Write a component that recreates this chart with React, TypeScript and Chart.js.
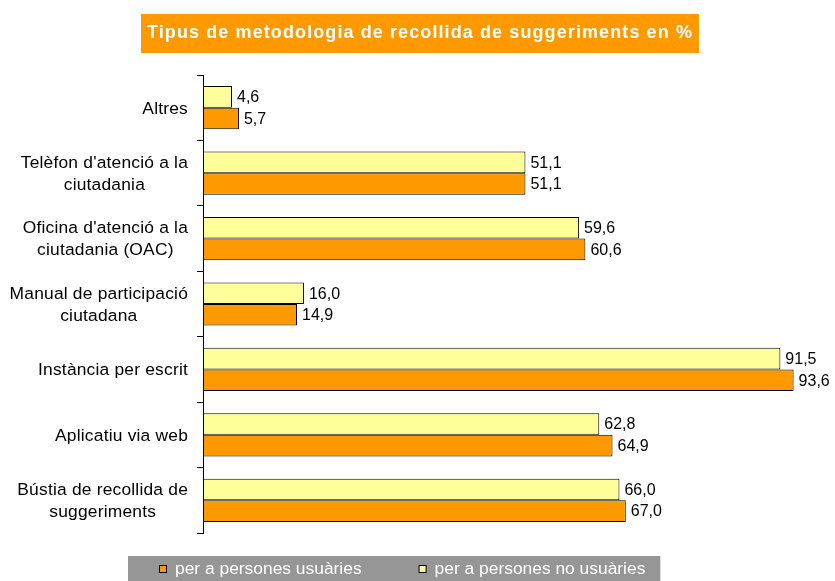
import React, { useEffect, useRef } from 'react';
import { Chart, registerables } from 'chart.js';

Chart.register(...registerables);

const chartTitle = 'Tipus de metodologia de recollida de suggeriments en %';
const categories: string[][] = [
  ['Altres'],
  ["Telèfon d'atenció a la", 'ciutadania'],
  ["Oficina d'atenció a la", 'ciutadania (OAC)'],
  ['Manual de participació', 'ciutadana'],
  ['Instància per escrit'],
  ['Aplicatiu via web'],
  ['Bústia de recollida de', 'suggeriments'],
];
const usuaries = [5.7, 51.1, 60.6, 14.9, 93.6, 64.9, 67.0];
const noUsuaries = [4.6, 51.1, 59.6, 16.0, 91.5, 62.8, 66.0];
const seriesNames = ['per a persones usuàries', 'per a persones no usuàries'];

const ORANGE = '#FF9900';
const YELLOW = '#FFFF99';
const GRAY = '#969696';
const FONT = '"Liberation Sans", Arial, sans-serif';

const setSpacing = (ctx: any, px: number) => {
  if ('letterSpacing' in ctx) ctx.letterSpacing = `${px}px`;
};

const customPlugin = {
  id: 'customDecor',
  beforeDraw(chart: any) {
    const ctx = chart.ctx as any;
    ctx.save();
    // Title box
    ctx.font = `bold 18px ${FONT}`;
    setSpacing(ctx, 0);
    const raw = ctx.measureText(chartTitle).width;
    const sp = Math.max(0, (546 - raw) / chartTitle.length);
    setSpacing(ctx, sp);
    const cx = 420;
    ctx.fillStyle = ORANGE;
    ctx.fillRect(141, 14, 558, 39);
    ctx.fillStyle = '#FFFFFF';
    ctx.textAlign = 'left';
    ctx.textBaseline = 'middle';
    ctx.fillText(chartTitle, cx - 546 / 2, 33);

    // Legend
    ctx.font = `17.4px ${FONT}`;
    setSpacing(ctx, 0);
    const w1 = ctx.measureText(seriesNames[0]).width;
    const w2 = ctx.measureText(seriesNames[1]).width;
    const x1 = 159;
    const x2 = x1 + 16 + w1 + 57;
    const end = x2 + 16 + w2;
    ctx.fillStyle = GRAY;
    ctx.fillRect(128, 556, end + 15 - 128, 40);
    const items = [
      { x: x1, color: ORANGE, text: seriesNames[0] },
      { x: x2, color: YELLOW, text: seriesNames[1] },
    ];
    items.forEach((it) => {
      ctx.fillStyle = it.color;
      ctx.fillRect(it.x + 0.5, 565.5, 7, 7);
      ctx.strokeStyle = '#000';
      ctx.lineWidth = 1;
      ctx.strokeRect(it.x + 0.5, 565.5, 7, 7);
      ctx.fillStyle = '#FFFFFF';
      ctx.textAlign = 'left';
      ctx.textBaseline = 'middle';
      ctx.fillText(it.text, it.x + 16, 569);
    });
    ctx.restore();
  },
  afterDatasetsDraw(chart: any) {
    const ctx = chart.ctx as any;
    ctx.save();
    // Value labels
    ctx.font = `16px ${FONT}`;
    setSpacing(ctx, 0);
    ctx.fillStyle = '#000';
    ctx.textAlign = 'left';
    ctx.textBaseline = 'middle';
    chart.data.datasets.forEach((ds: any, di: number) => {
      const meta = chart.getDatasetMeta(di);
      meta.data.forEach((el: any, i: number) => {
        const v = ds.data[i] as number;
        ctx.fillText(v.toFixed(1).replace('.', ','), el.x + 5, el.y + 1);
      });
    });
    // Category labels
    const yScale = chart.scales.y;
    ctx.font = `17.4px ${FONT}`;
    setSpacing(ctx, 0.2);
    ctx.textAlign = 'center';
    categories.forEach((lines, i) => {
      const y = yScale.getPixelForTick(i);
      const bw = Math.max(...lines.map((l) => ctx.measureText(l).width));
      const cx = 188 - bw / 2;
      lines.forEach((l, j) => {
        ctx.fillText(l, cx, y + (j - (lines.length - 1) / 2) * 22 + 1);
      });
    });
    ctx.restore();
  },
};

export default function App() {
  const ref = useRef<HTMLCanvasElement | null>(null);
  useEffect(() => {
    if (!ref.current) return;
    const chart = new Chart(ref.current, {
      type: 'bar',
      data: {
        labels: categories.map((c) => c.join(' ')),
        datasets: [
          {
            label: seriesNames[1],
            data: noUsuaries,
            backgroundColor: YELLOW,
            borderColor: '#000',
            borderWidth: 1,
            borderSkipped: false,
          },
          {
            label: seriesNames[0],
            data: usuaries,
            backgroundColor: ORANGE,
            borderColor: '#000',
            borderWidth: 1,
            borderSkipped: false,
          },
        ],
      },
      options: {
        indexAxis: 'y',
        animation: false,
        responsive: false,
        maintainAspectRatio: false,
        layout: { padding: { top: 75, bottom: 48, left: 0, right: 1 } },
        datasets: { bar: { categoryPercentage: 0.66, barPercentage: 1 } },
        plugins: {
          legend: { display: false },
          title: { display: false },
          tooltip: { enabled: false },
        },
        scales: {
          x: { display: false, min: 0, max: 100 },
          y: {
            offset: true,
            ticks: { display: false },
            grid: {
              offset: true,
              drawOnChartArea: false,
              drawTicks: true,
              tickLength: 6,
              color: '#000',
            },
            border: { display: true, color: '#000', width: 1 },
            afterFit: (s: any) => {
              s.width = 203;
            },
          },
        },
      },
      plugins: [customPlugin],
    });
    return () => chart.destroy();
  }, []);
  return (
    <div style={{ position: 'absolute', left: 0, top: 0, width: 835, height: 581, overflow: 'hidden', background: '#fff' }}>
      <canvas ref={ref} width={835} height={581} style={{ width: 835, height: 581, display: 'block' }} />
    </div>
  );
}
